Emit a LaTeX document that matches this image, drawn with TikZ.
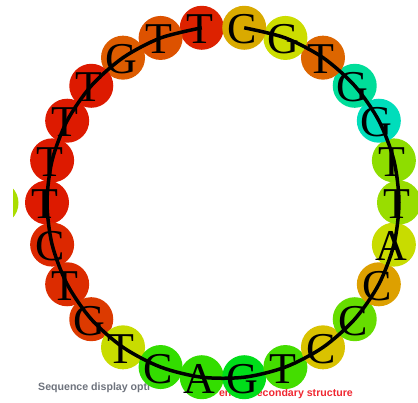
\documentclass[tikz,border=0pt]{standalone}
\usepackage{fontspec}
\setmainfont{Liberation Serif}
\newfontfamily\uisans{Liberation Sans}
\definecolor{uigray}{HTML}{6E737D}
\definecolor{uired}{HTML}{F02832}
\definecolor{cL}{HTML}{AADD00}
\definecolor{k0}{HTML}{DD2200}
\definecolor{k1}{HTML}{DD5200}
\definecolor{k2}{HTML}{DD5C00}
\definecolor{k3}{HTML}{DD1A00}
\definecolor{k4}{HTML}{DD1A00}
\definecolor{k5}{HTML}{DD1A00}
\definecolor{k6}{HTML}{DD1A00}
\definecolor{k7}{HTML}{DC2800}
\definecolor{k8}{HTML}{DC2C00}
\definecolor{k9}{HTML}{DC3A00}
\definecolor{k10}{HTML}{C8DC00}
\definecolor{k11}{HTML}{33DD00}
\definecolor{k12}{HTML}{33DD00}
\definecolor{k13}{HTML}{00DD1A}
\definecolor{k14}{HTML}{44DD00}
\definecolor{k15}{HTML}{D9C200}
\definecolor{k16}{HTML}{66DD00}
\definecolor{k17}{HTML}{DDA000}
\definecolor{k18}{HTML}{C8DC00}
\definecolor{k19}{HTML}{99DD00}
\definecolor{k20}{HTML}{8EDD00}
\definecolor{k21}{HTML}{00DDBB}
\definecolor{k22}{HTML}{00DD99}
\definecolor{k23}{HTML}{DD6600}
\definecolor{k24}{HTML}{CCDD00}
\definecolor{k25}{HTML}{D9AA00}
\begin{document}
\begin{tikzpicture}[x=1pt,y=-1pt,
  disc/.style={circle, minimum size=44pt, inner sep=0pt, draw=none},
  base/.style={font=\fontsize{44}{44}\selectfont, inner sep=0pt, anchor=base},
  chain/.style={line width=3.5pt, black},
  ui/.style={font=\uisans\bfseries\fontsize{10.6}{12}\selectfont, inner sep=0pt}]
\useasboundingbox[fill=white] (0,0) rectangle (418,403);
\node[ui, text=uigray, anchor=base west] (opts) at (38,391) {Sequence display opti};
\node[ui, text=uired, anchor=base east] (struct) at (353,397) {entire secondary structure};
\begin{scope}
  \clip (13,150) rectangle (40,260);
  \fill[cL] (-3.5,203) circle (22);
\end{scope}
\foreach \k/\l in {0/T,1/T,2/G,3/T,4/T,5/T,6/T,7/C,8/T,9/G,10/T,11/C,12/A,13/G,14/T,15/C,16/C,17/C,18/A,19/T,20/T,21/G,22/G,23/T,24/G,25/C} {
  \pgfmathsetmacro\ang{96.923+\k*13.846}
  \node[disc, fill=k\k] (d\k) at ({223+176*cos(\ang)},{202.5-176*sin(\ang)}) {};
  \node[base] (l\k) at ([xshift=-2pt,yshift=-16pt]d\k.center) {\l};
}
\draw[chain] plot[smooth] coordinates {(d25.center) (d24.center) (d23.center) (d22.center) (d21.center) (d20.center) (d19.center) (d18.center) (d17.center) (d16.center) (d15.center) (d14.center) (d13.center) (d12.center) (d11.center) (d10.center) (d9.center) (d8.center) (d7.center) (d6.center) (d5.center) (d4.center) (d3.center) (d2.center) (d1.center) (d0.center)};
\end{tikzpicture}
\end{document}
